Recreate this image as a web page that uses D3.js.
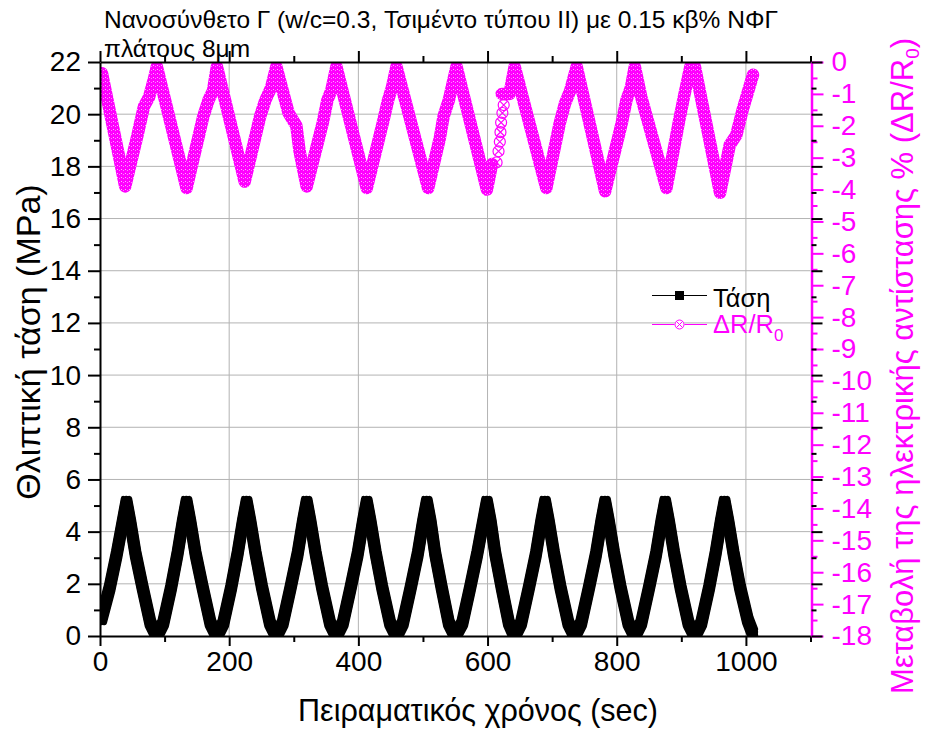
<!DOCTYPE html>
<html>
<head>
<meta charset="utf-8">
<script src="https://cdn.jsdelivr.net/npm/d3@7/dist/d3.min.js"></script>
<style>
  html, body { margin: 0; padding: 0; background: #fff; }
  svg { display: block; font-family: Arial, "Liberation Sans", sans-serif; }
</style>
</head>
<body>
<svg id="chart" width="926" height="734"></svg>
<script>
// Compressive stress (MPa) vs experimental time (s)
const stressTime = [
  2, 15, 26, 35, 41,
  47, 55, 66, 78, 88, 98, 110, 120, 128, 134,
  140, 148, 159, 171, 181, 191, 203, 213, 221, 227,
  233, 241, 251, 263, 273, 283, 295, 306, 314, 320,
  326, 334, 344, 356, 366, 376, 388, 399, 407, 413,
  419, 427, 437, 449, 459, 469, 481, 492, 500, 506,
  512, 519, 529, 540, 550, 561, 573, 584, 593, 599,
  605, 612, 622, 633, 642, 652, 664, 675, 683, 689,
  695, 703, 713, 725, 735, 745, 757, 768, 776, 782,
  788, 796, 806, 818, 828, 838, 850, 861, 869, 875,
  881, 889, 899, 911, 921, 931, 943, 953, 961, 967,
  973, 981, 991, 1003, 1010
];
const stressMPa = [
  0.63, 1.85, 3.15, 4.35, 5.15,
  4.35, 3.15, 1.85, 0.5, 0.0, 0.5, 1.85, 3.15, 4.35, 5.15,
  4.35, 3.15, 1.85, 0.5, 0.0, 0.5, 1.85, 3.15, 4.35, 5.15,
  4.35, 3.15, 1.85, 0.5, 0.0, 0.5, 1.85, 3.15, 4.35, 5.15,
  4.35, 3.15, 1.85, 0.5, 0.0, 0.5, 1.85, 3.15, 4.35, 5.15,
  4.35, 3.15, 1.85, 0.5, 0.0, 0.5, 1.85, 3.15, 4.35, 5.15,
  4.35, 3.15, 1.85, 0.5, 0.0, 0.5, 1.85, 3.15, 4.35, 5.15,
  4.35, 3.15, 1.85, 0.5, 0.0, 0.5, 1.85, 3.15, 4.35, 5.15,
  4.35, 3.15, 1.85, 0.5, 0.0, 0.5, 1.85, 3.15, 4.35, 5.15,
  4.35, 3.15, 1.85, 0.5, 0.0, 0.5, 1.85, 3.15, 4.35, 5.15,
  4.35, 3.15, 1.85, 0.5, 0.0, 0.5, 1.85, 3.15, 4.35, 5.15,
  4.35, 3.15, 1.85, 0.6, 0.15
];

// Fractional change of electrical resistance ΔR/R0 (%); null marks a gap in the record
const resTime = [
  3, 39, 58, 68, 76, 84, 88, 134, 160, 168, 175, 181, 224,
  248, 256, 265, 273, 292, 304, 309, 320, 345, 352, 358, 366, 413,
  438, 446, 452, 459, 508, 526, 532, 540, 552, 599, 607,
  null,
  622, 634, 642, 691, 712, 720, 728, 738, 782, 808, 815, 822, 828,
  838, 877, 897, 905, 914, 921, 960, 975, 985, 995, 1011
];
const resPct = [
  -0.35, -3.9, -2.3, -1.4, -1.1, -0.5, -0.15, -3.95, -1.7, -1.2, -0.9, -0.15, -3.75,
  -1.7, -1.2, -0.8, -0.15, -1.6, -2.0, -2.8, -3.9, -1.9, -1.2, -0.9, -0.15, -3.95,
  -1.9, -1.2, -0.8, -0.15, -3.95, -2.4, -1.7, -1.2, -0.15, -4.0, -3.2,
  null,
  -1.0, -1.0, -0.15, -3.95, -1.9, -1.3, -0.9, -0.15, -4.05, -1.9, -1.2, -0.8, -0.15,
  -1.1, -3.95, -1.8, -1.0, -0.15, -0.15, -4.1, -2.6, -2.3, -1.5, -0.4
];
// isolated readings inside the gap
const looseTime = [614, 617, 619, 620, 621, 623, 625];
const loosePct  = [-3.15, -2.8, -2.5, -2.2, -1.9, -1.6, -1.35];

// Axis ticks
const xMajor = [0, 200, 400, 600, 800, 1000];
const xMinor = [100, 300, 500, 700, 900, 1100];
const yLeftMajor = [0, 2, 4, 6, 8, 10, 12, 14, 16, 18, 20, 22];
const yLeftMinor = [1, 3, 5, 7, 9, 11, 13, 15, 17, 19, 21];
const yRightMajor = d3.range(-18, 1, 1);
const yRightMinor = d3.range(-17.5, 0, 1);

const titleLines = ["Νανοσύνθετο Γ (w/c=0.3, Τσιμέντο τύπου ΙΙ) με 0.15 κβ% ΝΦΓ", "πλάτους 8μm"];
const seriesNames = ["Τάση", "ΔR/R"];

const PINK = "#ff00ff";
const GRID = "#b3b3b3";

const svg = d3.select("#chart");
const L = 100, R = 810.5, T = 62, B = 636;

const x = d3.scaleLinear().domain([0, 1100]).range([L, R]);
const yL = d3.scaleLinear().domain([0, 22]).range([B, T]);
const yR = d3.scaleLinear().domain([-18, 0]).range([B, T]);

const defs = svg.append("defs");
defs.append("clipPath").attr("id", "plotClip")
  .append("rect").attr("x", L).attr("y", T).attr("width", R - L).attr("height", B - T);

// speckled fill that imitates densely overlapping open markers
const pat = defs.append("pattern").attr("id", "pinkTex")
  .attr("patternUnits", "userSpaceOnUse").attr("width", 4).attr("height", 4);
pat.append("rect").attr("width", 4).attr("height", 4).attr("fill", PINK);
pat.append("rect").attr("x", 1).attr("y", 1).attr("width", 1).attr("height", 1).attr("fill", "#ffb0ff");
pat.append("rect").attr("x", 3).attr("y", 2).attr("width", 1).attr("height", 1).attr("fill", "#ff80ff");

// grid
const grid = svg.append("g");
grid.selectAll("line.gx").data(xMajor.filter(d => d > 0)).join("line")
  .attr("x1", d => x(d)).attr("x2", d => x(d)).attr("y1", T).attr("y2", B)
  .attr("stroke", GRID).attr("stroke-width", 1);
grid.selectAll("line.gy").data(yLeftMajor.filter(d => d > 0 && d < 22)).join("line")
  .attr("x1", L).attr("x2", R).attr("y1", d => yL(d)).attr("y2", d => yL(d))
  .attr("stroke", GRID).attr("stroke-width", 1);

// data
const plot = svg.append("g").attr("clip-path", "url(#plotClip)");

const resPts = resTime.map((t, i) => [t, resPct[i]]);
const resLine = d3.line()
  .defined(d => d[0] !== null)
  .x(d => x(d[0])).y(d => yR(d[1]));
plot.append("path").attr("d", resLine(resPts))
  .attr("fill", "none").attr("stroke", "url(#pinkTex)")
  .attr("stroke-width", 12.5).attr("stroke-linejoin", "round").attr("stroke-linecap", "round");

// isolated crossed-circle markers
const crossCircle = (g, cx, cy, r, w) => {
  g.append("circle").attr("cx", cx).attr("cy", cy).attr("r", r)
    .attr("fill", "none").attr("stroke", PINK).attr("stroke-width", w);
  const k = r * 0.7071;
  g.append("path").attr("d", `M${cx - k},${cy - k}L${cx + k},${cy + k}M${cx - k},${cy + k}L${cx + k},${cy - k}`)
    .attr("stroke", PINK).attr("stroke-width", w);
};
looseTime.forEach((t, i) => crossCircle(plot, x(t), yR(loosePct[i]), 5.5, 1.2));

// stress: filled square markers swept along the record
const stressPts = stressTime.map((t, i) => [t, stressMPa[i]]);
const stressLine = d3.line().x(d => x(d[0])).y(d => yL(d[1]));
const sd = stressLine(stressPts);
const sg = plot.append("g").attr("fill", "none").attr("stroke", "#000")
  .attr("stroke-linejoin", "round").attr("stroke-linecap", "round");
sg.append("path").attr("d", sd).attr("stroke-width", 11.5);
[[-3, -3], [3, -3], [-3, 3], [3, 3]].forEach(([dx, dy]) => {
  sg.append("path").attr("d", sd).attr("stroke-width", 5.5)
    .attr("transform", `translate(${dx},${dy})`);
});

// axes
const styleAxis = (g, color, w) => {
  g.selectAll(".domain").attr("stroke", color).attr("stroke-width", w);
  g.selectAll(".tick line").attr("stroke", color).attr("stroke-width", 2);
  g.selectAll(".tick text").attr("fill", color).attr("font-size", 28)
    .attr("font-family", 'Arial, "Liberation Sans", sans-serif');
};
const fmt = d => String(d);

// bottom
const gb = svg.append("g").attr("transform", `translate(0,${B})`);
gb.call(d3.axisBottom(x).tickValues(xMajor).tickSize(10).tickPadding(5).tickSizeOuter(0).tickFormat(fmt));
styleAxis(gb, "#000", 2);
const gbm = svg.append("g").attr("transform", `translate(0,${B})`);
gbm.call(d3.axisBottom(x).tickValues(xMinor).tickSize(6).tickSizeOuter(0).tickFormat(""));
gbm.select(".domain").remove(); styleAxis(gbm, "#000", 2);

// top
const gt = svg.append("g").attr("transform", `translate(0,${T})`);
gt.call(d3.axisTop(x).tickValues(xMajor).tickSize(11).tickSizeOuter(0).tickFormat(""));
styleAxis(gt, "#000", 2);
const gtm = svg.append("g").attr("transform", `translate(0,${T})`);
gtm.call(d3.axisTop(x).tickValues(xMinor).tickSize(6).tickSizeOuter(0).tickFormat(""));
gtm.select(".domain").remove(); styleAxis(gtm, "#000", 2);

// left
const gl = svg.append("g").attr("transform", `translate(${L},0)`);
gl.call(d3.axisLeft(yL).tickValues(yLeftMajor).tickSize(12).tickPadding(7).tickSizeOuter(0).tickFormat(fmt));
styleAxis(gl, "#000", 2);
const glm = svg.append("g").attr("transform", `translate(${L},0)`);
glm.call(d3.axisLeft(yL).tickValues(yLeftMinor).tickSize(6).tickSizeOuter(0).tickFormat(""));
glm.select(".domain").remove(); styleAxis(glm, "#000", 2);

// right: resistance scale in pink
const grp = svg.append("g").attr("transform", `translate(${R + 1},0)`);
grp.call(d3.axisRight(yR).tickValues(yRightMajor).tickSize(12).tickPadding(8).tickSizeOuter(0).tickFormat(fmt));
styleAxis(grp, PINK, 2.5);
const grpm = svg.append("g").attr("transform", `translate(${R + 1},0)`);
grpm.call(d3.axisRight(yR).tickValues(yRightMinor).tickSize(6).tickSizeOuter(0).tickFormat(""));
grpm.select(".domain").remove(); styleAxis(grpm, PINK, 2);
// right: mirrored stress ticks in black
const grb = svg.append("g").attr("transform", `translate(${R + 1},0)`);
grb.call(d3.axisRight(yL).tickValues(yLeftMajor).tickSize(11).tickSizeOuter(0).tickFormat(""));
grb.select(".domain").remove(); styleAxis(grb, "#000", 2);
const grbm = svg.append("g").attr("transform", `translate(${R + 1},0)`);
grbm.call(d3.axisRight(yL).tickValues(yLeftMinor).tickSize(5).tickSizeOuter(0).tickFormat(""));
grbm.select(".domain").remove(); styleAxis(grbm, "#000", 2);

// titles
const title = svg.append("text").attr("x", 104).attr("font-size", 24.5).attr("fill", "#000");
title.append("tspan").attr("x", 104).attr("y", 28).text(titleLines[0]);
title.append("tspan").attr("x", 104).attr("y", 57).text(titleLines[1]);

svg.append("text").attr("x", 478).attr("y", 721).attr("text-anchor", "middle")
  .attr("font-size", 30.5).text("Πειραματικός χρόνος (sec)");

svg.append("text").attr("transform", `translate(40,342) rotate(-90)`)
  .attr("text-anchor", "middle").attr("font-size", 34).text("Θλιπτική τάση (MPa)");

const rt = svg.append("text").attr("transform", `translate(913,366) rotate(-90)`)
  .attr("text-anchor", "middle").attr("font-size", 31).attr("fill", PINK);
rt.append("tspan").text("Μεταβολή της ηλεκτρικής αντίστασης % (ΔR/R");
rt.append("tspan").attr("font-size", 19).attr("dy", 6).text("0");
rt.append("tspan").attr("dy", -6).text(")");

// legend
const lg = svg.append("g");
lg.append("line").attr("x1", 652).attr("x2", 707).attr("y1", 295.5).attr("y2", 295.5)
  .attr("stroke", "#000").attr("stroke-width", 1);
lg.append("rect").attr("x", 675).attr("y", 291).attr("width", 9).attr("height", 9).attr("fill", "#000");
lg.append("text").attr("x", 713).attr("y", 307).attr("font-size", 25.5).text(seriesNames[0]);

lg.append("line").attr("x1", 652).attr("x2", 707).attr("y1", 324.5).attr("y2", 324.5)
  .attr("stroke", PINK).attr("stroke-width", 1);
lg.append("circle").attr("cx", 679.5).attr("cy", 324.5).attr("r", 5).attr("fill", "#fff");
crossCircle(lg, 679.5, 324.5, 4.5, 1);
const lt = lg.append("text").attr("x", 713).attr("y", 333).attr("font-size", 25.5).attr("fill", PINK);
lt.append("tspan").text(seriesNames[1]);
lt.append("tspan").attr("font-size", 17).attr("dy", 8).text("0");
</script>
</body>
</html>
